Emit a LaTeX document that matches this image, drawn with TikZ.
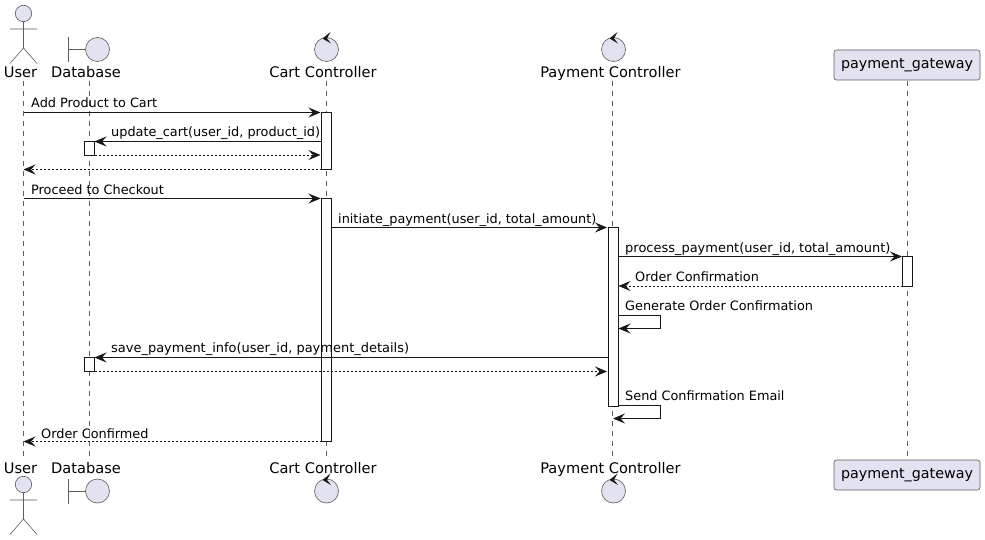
\documentclass[tikz,border=0pt]{standalone}
\usepackage{fontspec}
\setmainfont{DejaVu Sans}
\usetikzlibrary{arrows.meta}
\definecolor{partfill}{HTML}{E2E2F0}
\definecolor{ink}{HTML}{181818}
\begin{document}
\begin{tikzpicture}[x=1pt,y=-1pt,
    head/.style={font=\fontsize{14.6}{16}\selectfont,text=black,inner sep=0pt,anchor=base},
    gatebox/.style={font=\fontsize{14.3}{16}\selectfont,text=black,inner sep=0pt,draw=ink!70,line width=0.6pt,fill=partfill,rounded corners=2.5pt,minimum width=146pt,minimum height=30pt},
    msgtext/.style={font=\fontsize{12.85}{15}\selectfont,text=black,inner sep=0pt,anchor=base west},
    widetext/.style={msgtext,font=\fontsize{12.97}{15}\selectfont},
    lifeline/.style={ink!70,line width=0.6pt,dash pattern=on 5pt off 5pt},
    figure/.style={ink!70,line width=0.6pt,fill=partfill},
    stick/.style={ink!70,line width=0.6pt},
    activation/.style={ink,line width=0.8pt,fill=white},
    msg/.style={ink,line width=0.8pt,-{Stealth[length=12pt,width=10pt,inset=4.5pt]}},
    reply/.style={msg,dash pattern=on 2pt off 2pt},
    chevron/.style={fill=ink,draw=none}]
    \useasboundingbox (0,0) rectangle (985,540);
    \fill[white] (0,0) rectangle (985,540);

    % lifeline ends
    \coordinate (UT) at (23.5,81);
    \coordinate (UB) at (23.5,457);
    \coordinate (DT) at (89,81);
    \coordinate (DB) at (89,457);
    \coordinate (CT) at (326.5,81);
    \coordinate (CB) at (326.5,457);
    \coordinate (PT) at (612.5,81);
    \coordinate (PB) at (612.5,457);
    \coordinate (GT) at (907.5,81);
    \coordinate (GB) at (907.5,460);

    % message ends
    \coordinate (A1) at (23.5,112.5);
    \coordinate (A2) at (320.5,112.5);
    \coordinate (B1) at (321.5,141.5);
    \coordinate (B2) at (94.5,141.5);
    \coordinate (C1) at (94.5,155);
    \coordinate (C2) at (320.5,155);
    \coordinate (D1) at (321.5,169.5);
    \coordinate (D2) at (23.5,169.5);
    \coordinate (E1) at (23.5,198.5);
    \coordinate (E2) at (320.5,198.5);
    \coordinate (F1) at (331.5,227.5);
    \coordinate (F2) at (607,227.5);
    \coordinate (G1) at (618,256.5);
    \coordinate (G2) at (902,256.5);
    \coordinate (H1) at (902.5,286);
    \coordinate (H2) at (618.5,286);
    \coordinate (I1) at (618,315);
    \coordinate (I2) at (660.5,315);
    \coordinate (I3) at (660.5,328.5);
    \coordinate (I4) at (618.5,328.5);
    \coordinate (J1) at (608,357.5);
    \coordinate (J2) at (94.5,357.5);
    \coordinate (K1) at (94.5,371.5);
    \coordinate (K2) at (607,371.5);
    \coordinate (L1) at (618,405);
    \coordinate (L2) at (660.5,405);
    \coordinate (L3) at (660.5,418.5);
    \coordinate (L4) at (613,418.5);
    \coordinate (M1) at (321.5,441.5);
    \coordinate (M2) at (23.5,441.5);

    % lifelines
    \draw[lifeline] (UT) -- (UB);
    \draw[lifeline] (DT) -- (DB);
    \draw[lifeline] (CT) -- (CB);
    \draw[lifeline] (PT) -- (PB);
    \draw[lifeline] (GT) -- (GB);

    % activations
    \draw[activation] (321.5,112.5) rectangle (331.5,169.5);
    \draw[activation] (84.5,141.5) rectangle (94.5,155);
    \draw[activation] (321.5,198.5) rectangle (331.5,441.5);
    \draw[activation] (608,227.5) rectangle (618,406);
    \draw[activation] (902.5,256.5) rectangle (912.5,286);
    \draw[activation] (84.5,357.5) rectangle (94.5,371.5);

    % messages
    \draw[msg] (A1) -- (A2);
    \draw[msg] (B1) -- (B2);
    \draw[reply] (C1) -- (C2);
    \draw[reply] (D1) -- (D2);
    \draw[msg] (E1) -- (E2);
    \draw[msg] (F1) -- (F2);
    \draw[msg] (G1) -- (G2);
    \draw[reply] (H1) -- (H2);
    \draw[msg] (I1) -- (I2) -- (I3) -- (I4);
    \draw[msg] (J1) -- (J2);
    \draw[reply] (K1) -- (K2);
    \draw[msg] (L1) -- (L2) -- (L3) -- (L4);
    \draw[reply] (M1) -- (M2);

    % message labels
    \node[msgtext] (a) at (31,107.5) {Add Product to Cart};
    \node[msgtext] (b) at (111,136.5) {update\_cart(user\_id, product\_id)};
    \node[msgtext] (e) at (31,194.5) {Proceed to Checkout};
    \node[msgtext] (f) at (338,223) {initiate\_payment(user\_id, total\_amount)};
    \node[widetext] (g) at (625,252) {process\_payment(user\_id, total\_amount)};
    \node[msgtext] (h) at (635,281) {Order Confirmation};
    \node[msgtext] (i) at (625,310) {Generate Order Confirmation};
    \node[widetext] (j) at (111,352.5) {save\_payment\_info(user\_id, payment\_details)};
    \node[msgtext] (l) at (625,400) {Send Confirmation Email};
    \node[msgtext] (m) at (41,438) {Order Confirmed};

    % names, top
    \node[head] (usertop) at (20.5,78) {User};
    \node[head] (dbtop) at (86,78) {Database};
    \node[head] (carttop) at (323,78) {Cart Controller};
    \node[head] (paytop) at (610.5,78) {Payment Controller};
    % names, bottom
    \node[head] (userbot) at (20.5,473) {User};
    \node[head] (dbbot) at (86,473) {Database};
    \node[head] (cartbot) at (323,473) {Cart Controller};
    \node[head] (paybot) at (610.5,473) {Payment Controller};

    % gateway boxes
    \node[gatebox] (gatetop) at (907,65) {payment\_gateway};
    \node[gatebox] (gatebot) at (907,475) {payment\_gateway};

    % actor, top
    \draw[figure] (23.5,13.5) circle (8.2);
    \draw[stick] (23.5,21.7) -- (23.5,48) (10,29) -- (37,29) (10,63.5) -- (23.5,48) -- (37,63.5);
    % actor, bottom
    \draw[figure] (23.5,484.5) circle (8.2);
    \draw[stick] (23.5,492.7) -- (23.5,519) (10,500) -- (37,500) (10,534.5) -- (23.5,519) -- (37,534.5);

    % boundary, top and bottom
    \draw[figure] (97.5,49.5) circle (12);
    \draw[stick] (68.5,37) -- (68.5,62) (68.5,49.5) -- (85.5,49.5);
    \draw[figure] (97.5,491) circle (12);
    \draw[stick] (68.5,479) -- (68.5,503.5) (68.5,491) -- (85.5,491);

    % controllers
    \draw[figure] (326.5,49.5) circle (12);
    \fill[chevron] (330.5,32) -- (322.5,38.5) -- (331,43.5) -- (327,38.5) -- cycle;
    \draw[figure] (613.5,49.5) circle (12);
    \fill[chevron] (617.5,32) -- (609.5,38.5) -- (618,43.5) -- (614,38.5) -- cycle;
    \draw[figure] (326.5,491) circle (12);
    \fill[chevron] (330.5,473.5) -- (322.5,480) -- (331,485) -- (327,480) -- cycle;
    \draw[figure] (613.5,491) circle (12);
    \fill[chevron] (617.5,473.5) -- (609.5,480) -- (618,485) -- (614,480) -- cycle;
\end{tikzpicture}
\end{document}
